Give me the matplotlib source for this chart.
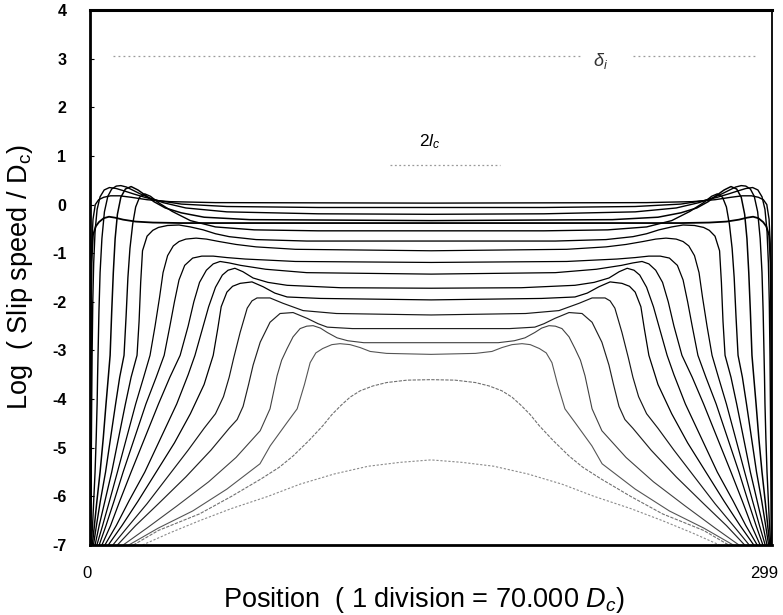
import matplotlib
matplotlib.use('Agg')
import matplotlib.pyplot as plt
from matplotlib.transforms import ScaledTranslation

plt.rcParams['font.family'] = ['Liberation Sans', 'DejaVu Sans']
plt.rcParams['mathtext.fontset'] = 'custom'
plt.rcParams['mathtext.rm'] = 'Liberation Sans'
plt.rcParams['mathtext.it'] = 'Liberation Sans:italic'
plt.rcParams['mathtext.bf'] = 'Liberation Sans:bold'

X_MAX = 299
X_TICKS = [0, 299]
Y_TICKS = [4, 3, 2, 1, 0, -1, -2, -3, -4, -5, -6, -7]

# Left-half profiles (position, log slip speed); the profiles are symmetric about the centre.
c1_x = [23, 35, 48, 62, 78, 92, 107, 122, 136, 149.5]
c1_y = [-7.0, -6.75, -6.5, -6.25, -6.0, -5.75, -5.54, -5.38, -5.3, -5.25]

c2_x = [19, 30, 48, 62, 75, 83, 89, 96, 102, 106, 110, 114, 118.4, 124, 130, 139, 149.5]
c2_y = [-7.0, -6.7, -6.36, -6.0, -5.64, -5.4, -5.17, -4.85, -4.55, -4.32, -4.13, -3.96, -3.83, -3.73, -3.66, -3.61, -3.6]

b6_x = [17, 30, 45, 60, 74.5, 79, 86.4, 90.8, 94, 96.5, 99, 102, 106, 109.6, 114, 118.4, 122.8, 130, 149.5]
b6_y = [-7, -6.65, -6.3, -5.85, -5.33, -4.96, -4.48, -4.2, -3.7, -3.25, -3.05, -2.96, -2.88, -2.86, -2.88, -2.94, -3.02, -3.06, -3.08]

b5_x = [14.5, 25, 38, 52, 64, 74.6, 78.9, 82, 84, 86.4, 89, 92.1, 95, 97.8, 101, 104, 108.3, 113, 120, 149.5]
b5_y = [-7, -6.65, -6.2, -5.7, -5.2, -4.65, -4.2, -3.52, -3.2, -2.96, -2.72, -2.55, -2.5, -2.49, -2.54, -2.63, -2.74, -2.8, -2.84, -2.84]

b4_x = [12, 20, 30, 42, 53, 61, 64.5, 67.1, 69.5, 71.5, 74.6, 78.9, 83.3, 89, 95.2, 100, 104, 115, 149.5]
b4_y = [-7, -6.6, -6.15, -5.6, -5.05, -4.6, -4.42, -4.15, -3.7, -3.3, -2.83, -2.42, -2.24, -2.22, -2.34, -2.45, -2.52, -2.55, -2.55]

b3_x = [10, 17, 25, 34, 43, 50, 55, 58.5, 61, 63, 65.8, 68.9, 71, 73.2, 78.9, 84.6, 93.4, 108, 149.5]
b3_y = [-7, -6.6, -6.15, -5.6, -5.05, -4.6, -4.3, -3.95, -3.55, -3.15, -2.63, -2.13, -1.98, -1.92, -1.92, -2.03, -2.18, -2.24, -2.27]

b2_x = [8, 14, 21, 29, 37, 44, 50, 54, 56, 57.5, 60, 62.5, 65.8, 71, 75.9, 81, 86.4, 101, 149.5]
b2_y = [-7, -6.6, -6.1, -5.5, -4.9, -4.3, -3.7, -3.1, -2.55, -2.1, -1.8, -1.68, -1.62, -1.59, -1.69, -1.82, -1.9, -1.93, -1.96]

b1_x = [6.5, 11.5, 17, 24, 31, 38, 43, 46, 49, 52, 55, 58, 60.5, 63.5, 67, 71.5, 78, 86.4, 110, 149.5]
b1_y = [-7, -6.6, -6.1, -5.5, -4.8, -4.1, -3.5, -3.1, -2.6, -2.1, -1.7, -1.45, -1.35, -1.31, -1.38, -1.51, -1.6, -1.66, -1.71, -1.72]

d1_x = [5.2, 9, 13, 18, 24, 30, 35, 39.5, 43, 45.5, 48, 51, 54, 57, 61, 66, 77, 95, 149.5]
d1_y = [-7, -6.6, -6.1, -5.5, -4.8, -4.1, -3.55, -3.1, -2.5, -2.0, -1.6, -1.35, -1.22, -1.17, -1.2, -1.25, -1.33, -1.4, -1.43]

d2_x = [4, 7, 10.5, 14.5, 19.5, 24.5, 29, 32.5, 35, 37, 39, 41.5, 45, 49, 54, 60, 68, 77, 90, 149.5]
d2_y = [-7, -6.6, -6.1, -5.5, -4.8, -4.1, -3.55, -3.1, -2.5, -2.0, -1.55, -1.25, -1.1, -1.06, -1.06, -1.09, -1.12, -1.14, -1.17, -1.19]

d3_x = [3, 5.5, 8.5, 12, 16, 20, 23.5, 26.3, 28.5, 30.5, 32, 34, 36.5, 39, 42, 46.5, 51, 56.6, 64, 72.8, 90, 149.5]
d3_y = [-7, -6.6, -6.1, -5.5, -4.8, -4.1, -3.55, -3.1, -2.5, -1.9, -1.4, -1.05, -0.85, -0.76, -0.71, -0.69, -0.71, -0.76, -0.82, -0.87, -0.92, -0.95]

d4_x = [2.2, 4, 6.5, 9.5, 12.5, 15.5, 18, 20.6, 21.5, 22.2, 23, 25, 27.5, 30, 34, 39, 44, 49.6, 55, 61, 72.8, 95, 149.5]
d4_y = [-7, -6.6, -6.1, -5.5, -4.8, -4.1, -3.55, -3.1, -2.4, -1.6, -0.95, -0.65, -0.53, -0.47, -0.43, -0.42, -0.46, -0.52, -0.6, -0.66, -0.72, -0.75, -0.75]

d5_x = [1.5, 2.8, 4.5, 6.8, 9, 11.2, 13, 14.9, 15.8, 16.6, 17.5, 18.7, 20, 21.7, 24, 26.5, 30, 36, 44, 55, 72, 100, 149.5]
d5_y = [-7, -6.6, -6.1, -5.5, -4.8, -4.1, -3.55, -3.1, -2.3, -1.5, -0.9, -0.4, -0.05, 0.15, 0.22, 0.17, 0.04, -0.14, -0.33, -0.46, -0.52, -0.54, -0.54]

d6_x = [1.0, 1.9, 3.0, 4.4, 5.8, 7.0, 8.0, 8.8, 9.5, 10.2, 11, 12, 13.5, 15.5, 18, 21, 24, 28, 33, 40, 50, 70, 149.5]
d6_y = [-7, -6.6, -6.1, -5.5, -4.8, -4.1, -3.55, -3.1, -2.2, -1.4, -0.7, -0.2, 0.15, 0.32, 0.37, 0.3, 0.2, 0.06, -0.07, -0.17, -0.26, -0.31, -0.33]

d7_x = [0.6, 1.1, 1.6, 2.2, 2.7, 3.1, 3.3, 3.5, 3.9, 4.4, 5.2, 6.3, 7.8, 9.5, 11.5, 13.5, 16, 19, 22, 26, 32, 42, 60, 100, 149.5]
d7_y = [-7, -6.6, -6.1, -5.5, -4.8, -4.1, -3.55, -3.1, -2.2, -1.4, -0.7, -0.15, 0.17, 0.32, 0.38, 0.39, 0.36, 0.29, 0.22, 0.14, 0.04, -0.07, -0.15, -0.19, -0.2]

d8_x = [0.3, 0.5, 0.7, 0.9, 1.2, 1.6, 2.2, 3.1, 4.4, 6.2, 8.5, 11.5, 15, 19, 24, 30, 40, 60, 100, 149.5]
d8_y = [-7, -5.5, -4.2, -3.1, -2.0, -1.2, -0.55, -0.1, 0.16, 0.3, 0.35, 0.33, 0.28, 0.22, 0.15, 0.08, 0.01, -0.04, -0.06, -0.06]

d9_x = [0.15, 0.3, 0.5, 0.8, 1.3, 2.3, 3.8, 6, 9, 13, 18, 25, 35, 55, 149.5]
d9_y = [-7, -4, -2, -0.8, -0.3, 0.0, 0.1, 0.15, 0.18, 0.18, 0.15, 0.1, 0.06, 0.04, 0.03]

late_x = [0.1, 0.3, 0.6, 1.3, 2.5, 3.9, 6, 8.3, 11, 14.5, 20, 27.6, 40, 149.5]
late_y = [-7, -3, -1.2, -0.63, -0.45, -0.36, -0.28, -0.25, -0.27, -0.31, -0.35, -0.37, -0.38, -0.38]

# reference lines
delta_line_y = 3.05
delta_segs = [(10, 215), (238, 293)]
lc_line_y = 0.81
lc_seg = (131.6, 179.8)

curves = [
    (c1_x, c1_y, dict(color='#8a8a8a', lw=0.8, ls=(0, (2, 1.6)))),
    (c2_x, c2_y, dict(color='#707070', lw=0.8, ls=(0, (3, 1.2)))),
    (b6_x, b6_y, dict(color='#555555', lw=0.8)),
    (b5_x, b5_y, dict(color='#404040', lw=0.8)),
    (b4_x, b4_y, dict(color='#202020', lw=0.85)),
    (b3_x, b3_y, dict(color='#151515', lw=0.85)),
    (b2_x, b2_y, dict(color='black', lw=0.9)),
    (b1_x, b1_y, dict(color='black', lw=0.9)),
    (d1_x, d1_y, dict(color='black', lw=0.9)),
    (d2_x, d2_y, dict(color='black', lw=0.9)),
    (d3_x, d3_y, dict(color='black', lw=0.9)),
    (d4_x, d4_y, dict(color='black', lw=0.95)),
    (d5_x, d5_y, dict(color='black', lw=1.0)),
    (d6_x, d6_y, dict(color='black', lw=1.1)),
    (d7_x, d7_y, dict(color='black', lw=1.0)),
    (d8_x, d8_y, dict(color='black', lw=1.0)),
    (d9_x, d9_y, dict(color='black', lw=1.0)),
    (late_x, late_y, dict(color='black', lw=1.3)),
]


def mirrored(xs, ys):
    fx = list(xs) + [X_MAX - v for v in reversed(xs[:-1])]
    fy = list(ys) + list(reversed(ys[:-1]))
    return fx, fy


fig = plt.figure(figsize=(7.83, 6.15), dpi=100)
ax = fig.add_axes([0.115, 0.1138, 0.871, 0.8699])

for xs, ys, st in curves:
    fx, fy = mirrored(xs, ys)
    ax.plot(fx, fy, solid_capstyle='round', **st)

for a, b in delta_segs:
    ax.plot([a, b], [delta_line_y, delta_line_y], color='#9a9a9a', lw=0.9, ls=(0, (1.5, 2.5)))
ax.plot(list(lc_seg), [lc_line_y, lc_line_y], color='#9a9a9a', lw=0.9, ls=(0, (1.5, 2)))

ax.text(224, 2.95, r'$\delta_i$', fontsize=13, ha='center', va='center', color='#333333')
ax.text(149, 1.3, r'$2l_c$', fontsize=12.5, ha='center', va='center', color='black')

ax.set_xlim(0, X_MAX)
ax.set_ylim(-7, 4)
ax.set_xticks(X_TICKS)
ax.set_xticklabels([str(t) for t in X_TICKS], fontsize=12)
ax.set_yticks(Y_TICKS)
ax.set_yticklabels([str(t) for t in Y_TICKS], fontsize=11.5, fontweight='bold')
ax.tick_params(axis='x', length=0, pad=15)
ax.tick_params(axis='y', direction='in', length=3, width=0.8, pad=17)

xl = ax.get_xticklabels()
xl[0].set_transform(xl[0].get_transform() + ScaledTranslation(-2 / 72, 0, fig.dpi_scale_trans))
xl[-1].set_transform(xl[-1].get_transform() + ScaledTranslation(-6 / 72, 0, fig.dpi_scale_trans))

for side, lw in [('top', 2.2), ('left', 2.0), ('bottom', 2.0), ('right', 1.3)]:
    ax.spines[side].set_linewidth(lw)

ax.set_xlabel(r'Position  ( 1 division = 70.000 $D_c$)', fontsize=19.5, labelpad=2)
ax.set_ylabel(r'Log  ( Slip speed / D$_\mathrm{c}$)', fontsize=19.5, labelpad=12)
ax.xaxis.set_label_coords(0.49, -0.075)

fig.savefig('out.png', dpi=100)
